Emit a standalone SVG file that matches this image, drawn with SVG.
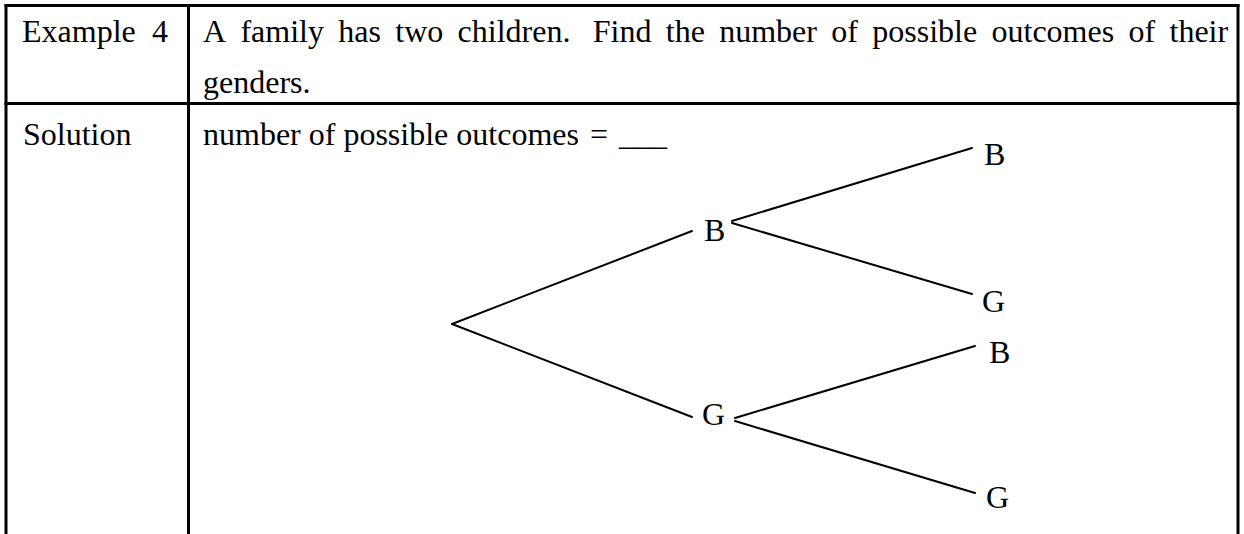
<svg xmlns="http://www.w3.org/2000/svg" width="1244" height="534" viewBox="0 0 1244 534">
<style>
  .t { font-family: "Liberation Serif", "Times New Roman", serif; font-size: 32px; fill: #000; }
  .grid { stroke: #000; stroke-width: 3; fill: none; }
  .edge { stroke: #000; stroke-width: 2; fill: none; stroke-linecap: round; }
</style>
<rect width="1244" height="534" fill="#fff"/>
<g id="table">
  <line class="grid" x1="4.5" y1="5.5" x2="1239.5" y2="5.5"/>
  <line class="grid" x1="4.5" y1="103.5" x2="1239.5" y2="103.5"/>
  <line class="grid" x1="6" y1="4" x2="6" y2="534"/>
  <line class="grid" x1="188.5" y1="4" x2="188.5" y2="534"/>
  <line class="grid" x1="1238" y1="4" x2="1238" y2="534"/>
</g>
<g id="texts">
  <text class="t" x="22" y="42">Example<tspan x="152">4</tspan></text>
  <text class="t" y="42"><tspan x="203">A</tspan><tspan x="240.4">family</tspan><tspan x="338.3">has</tspan><tspan x="395.3">two</tspan><tspan x="457.6">children.</tspan><tspan x="592.8">Find</tspan><tspan x="665.8">the</tspan><tspan x="719.2">number</tspan><tspan x="831.3">of</tspan><tspan x="872.3">possible</tspan><tspan x="991.5">outcomes</tspan><tspan x="1128.5">of</tspan><tspan x="1169.5">their</tspan></text>
  <text class="t" x="203" y="93">genders.</text>
  <text class="t" x="23" y="145">Solution</text>
  <text class="t" x="203" y="145">number of possible outcomes<tspan x="590">=</tspan><tspan x="619">___</tspan></text>
</g>
<g id="connectors">
  <line class="edge" x1="452" y1="324" x2="692" y2="231"/>
  <line class="edge" x1="452" y1="324" x2="692" y2="417"/>
  <line class="edge" x1="732" y1="221" x2="972" y2="148"/>
  <line class="edge" x1="732" y1="223" x2="972" y2="294"/>
  <line class="edge" x1="735" y1="418" x2="975" y2="346"/>
  <line class="edge" x1="735" y1="421" x2="975" y2="493"/>
</g>
<g id="node-B1"><text class="t" x="704" y="241">B</text></g>
<g id="node-G1"><text class="t" x="702" y="425">G</text></g>
<g id="node-B1B"><text class="t" x="984" y="165">B</text></g>
<g id="node-B1G"><text class="t" x="982" y="312">G</text></g>
<g id="node-G1B"><text class="t" x="989" y="363">B</text></g>
<g id="node-G1G"><text class="t" x="986" y="508">G</text></g>
</svg>
